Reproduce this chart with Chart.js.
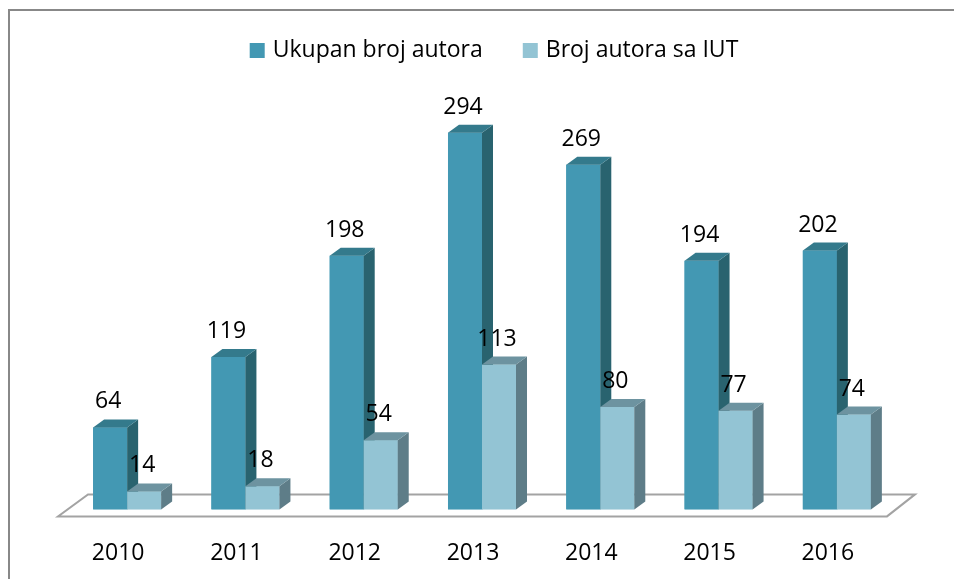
<!DOCTYPE html>
<html>
<head>
<meta charset="utf-8">
<script src="https://cdn.jsdelivr.net/npm/chart.js@4"></script>
<style>
  body { margin: 0; background: #fff; }
  #wrap { position: relative; width: 954px; height: 579px; }
</style>
</head>
<body>
<div id="wrap"><canvas id="myChart"></canvas></div>
<script>
const years = ['2010', '2011', '2012', '2013', '2014', '2015', '2016'];
const ukupanBroj = [64, 119, 198, 294, 269, 194, 202];
const brojIUT = [14, 18, 54, 113, 80, 77, 74];
const seriesNames = ['Ukupan broj autora', 'Broj autora sa IUT'];

const FONT = '"Open Sans", sans-serif';
const DEPTH_X = 11, DEPTH_Y = -8;
const faces = [
    { front: '#4398b3', side: '#29636f', top: '#347a8c' },
    { front: '#93c4d4', side: '#5e7d88', top: '#6d93a0' }
];

// floor, pseudo 3d faces, value labels, legend and frame
const bars3d = {
    id: 'bars3d',
    beforeDatasetsDraw(chart) {
        const { ctx, chartArea } = chart;
        const base = chart.scales.y.getPixelForValue(0);
        const fl = chartArea.left - 10, fr = chartArea.right - 9, fy = base + 7;
        ctx.save();
        ctx.beginPath();
        ctx.moveTo(fl, fy);
        ctx.lineTo(fr, fy);
        ctx.lineTo(fr + 28, fy - 22);
        ctx.lineTo(fl + 30, fy - 22);
        ctx.closePath();
        ctx.fillStyle = '#ffffff';
        ctx.fill();
        ctx.strokeStyle = '#a3a3a3';
        ctx.lineWidth = 2;
        ctx.stroke();
        ctx.restore();
    },
    afterDatasetsDraw(chart) {
        const { ctx } = chart;
        ctx.save();
        chart.data.datasets.forEach((ds, d) => {
            const f = faces[d];
            chart.getDatasetMeta(d).data.forEach(bar => {
                const left = bar.x - bar.width / 2;
                const right = bar.x + bar.width / 2;
                const top = bar.y;
                const bottom = bar.base;
                ctx.fillStyle = f.front;
                ctx.fillRect(left, top, right - left, bottom - top);
                ctx.fillStyle = f.side;
                ctx.beginPath();
                ctx.moveTo(right, top);
                ctx.lineTo(right + DEPTH_X, top + DEPTH_Y);
                ctx.lineTo(right + DEPTH_X, bottom + DEPTH_Y);
                ctx.lineTo(right, bottom);
                ctx.closePath();
                ctx.fill();
                ctx.fillStyle = f.top;
                ctx.beginPath();
                ctx.moveTo(left, top);
                ctx.lineTo(left + DEPTH_X, top + DEPTH_Y);
                ctx.lineTo(right + DEPTH_X, top + DEPTH_Y);
                ctx.lineTo(right, top);
                ctx.closePath();
                ctx.fill();
            });
        });
        ctx.fillStyle = '#000000';
        ctx.font = '23px ' + FONT;
        ctx.textAlign = 'center';
        ctx.textBaseline = 'alphabetic';
        chart.data.datasets.forEach((ds, d) => {
            chart.getDatasetMeta(d).data.forEach((bar, i) => {
                ctx.fillText(ds.data[i], bar.x - 2, bar.y - 19);
            });
        });
        ctx.restore();
    },
    afterDraw(chart) {
        const { ctx } = chart;
        ctx.save();
        ctx.strokeStyle = '#888888';
        ctx.lineWidth = 2;
        ctx.beginPath();
        ctx.moveTo(9, 579);
        ctx.lineTo(9, 10);
        ctx.lineTo(954, 10);
        ctx.stroke();

        ctx.font = '23px ' + FONT;
        const w = seriesNames.map(t => ctx.measureText(t).width);
        const total = 15 + 8 + w[0] + 40 + 15 + 8 + w[1];
        let x = 494 - total / 2;
        ctx.textBaseline = 'middle';
        ctx.textAlign = 'left';
        seriesNames.forEach((name, i) => {
            ctx.fillStyle = faces[i].front;
            ctx.fillRect(x, 43, 15, 15);
            ctx.fillStyle = '#000000';
            ctx.fillText(name, x + 23, 50);
            x += 23 + w[i] + 40;
        });
        ctx.restore();
    }
};

new Chart(document.querySelector('#myChart'), {
    type: 'bar',
    data: {
        labels: years,
        datasets: [{
            label: seriesNames[0],
            data: ukupanBroj,
            backgroundColor: faces[0].front
        }, {
            label: seriesNames[1],
            data: brojIUT,
            backgroundColor: faces[1].front
        }]
    },
    options: {
        responsive: true,
        maintainAspectRatio: false,
        animation: false,
        barPercentage: 1,
        categoryPercentage: 0.575,
        layout: { padding: { top: 125, left: 68, right: 58, bottom: -18 } },
        plugins: {
            legend: { display: false },
            tooltip: { enabled: false }
        },
        scales: {
            y: { display: false, min: 0, max: 300 },
            x: {
                grid: { display: false, drawTicks: false },
                border: { display: false },
                ticks: {
                    color: '#000000',
                    font: { family: FONT, size: 23 },
                    padding: 30,
                    labelOffset: -9
                }
            }
        }
    },
    plugins: [bars3d]
});
</script>
</body>
</html>
